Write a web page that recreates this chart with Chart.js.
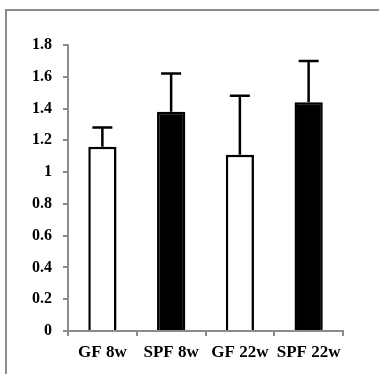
<!DOCTYPE html>
<html lang="en">

<head>
  <meta charset="UTF-8">
  <title>GF vs SPF</title>
  <script src="https://cdn.jsdelivr.net/npm/chart.js"></script>
  <style>
    body { margin: 0; background: #fff; }
    #frame {
      position: absolute; left: 5px; top: 9px; width: 380px; height: 380px;
      border-left: 2px solid #8c8c8c; border-top: 2px solid #8c8c8c;
    }
    #myChart { position: absolute; left: 0; top: 0; }
  </style>
</head>

<body>
  <div id="frame"></div>
  <canvas id="myChart" width="379" height="374"></canvas>

  <script>
    // values
    const categories = ['GF 8w', 'SPF 8w', 'GF 22w', 'SPF 22w'];
    const means = [1.16, 1.38, 1.11, 1.44];
    const errors = [0.12, 0.24, 0.37, 0.26];
    const fills = ['#ffffff', '#000000', '#ffffff', '#000000'];

    const axisGray = '#8c8c8c';

    // shadow under the bars, then the upward error bars
    const barExtras = {
      id: 'barExtras',
      beforeDatasetsDraw(chart) {
        const ctx = chart.ctx;
        ctx.save();
        ctx.shadowColor = 'rgba(0,0,0,0.3)';
        ctx.shadowBlur = 5;
        ctx.shadowOffsetX = 3;
        ctx.shadowOffsetY = 1;
      },
      afterDatasetsDraw(chart) {
        const ctx = chart.ctx;
        ctx.restore();
        const y = chart.scales.y;
        const bars = chart.getDatasetMeta(0).data;
        ctx.save();
        ctx.strokeStyle = '#000';
        ctx.lineWidth = 2.5;
        bars.forEach((bar, i) => {
          const top = y.getPixelForValue(means[i] + errors[i]);
          ctx.beginPath();
          ctx.moveTo(bar.x, bar.y);
          ctx.lineTo(bar.x, top);
          ctx.moveTo(bar.x - 10, top);
          ctx.lineTo(bar.x + 10, top);
          ctx.stroke();
        });
        ctx.restore();
      }
    };

    const ctx = document.getElementById('myChart').getContext('2d');

    const myChart = new Chart(ctx, {
      type: 'bar',
      data: {
        labels: categories,
        datasets: [{
          data: means,
          backgroundColor: fills,
          borderColor: '#000',
          borderWidth: 2.5,
          borderSkipped: 'bottom',
          categoryPercentage: 1,
          barPercentage: 0.41
        }]
      },
      options: {
        responsive: false,
        animation: false,
        layout: { padding: { left: 0, top: 45, right: 36, bottom: 0 } },
        plugins: {
          legend: { display: false },
          tooltip: { enabled: false }
        },
        scales: {
          x: {
            afterFit: (s) => { s.height = 43; },
            grid: { drawOnChartArea: false, color: axisGray, lineWidth: 2, tickLength: 5, offset: true },
            border: { color: axisGray, width: 2 },
            ticks: {
              color: '#000',
              padding: 6,
              autoSkip: false,
              maxRotation: 0,
              minRotation: 0,
              font: { family: 'Liberation Serif', size: 17, weight: 'bold' }
            }
          },
          y: {
            min: 0,
            max: 1.8,
            afterFit: (s) => { s.width = 68; },
            grid: { drawOnChartArea: false, color: axisGray, lineWidth: 2, tickLength: 5 },
            border: { color: axisGray, width: 2 },
            ticks: {
              stepSize: 0.2,
              color: '#000',
              padding: 11,
              callback: (v) => String(+v.toFixed(1)),
              font: { family: 'Liberation Serif', size: 16, weight: 'bold' }
            }
          }
        }
      },
      plugins: [barExtras]
    });
  </script>
</body>

</html>
